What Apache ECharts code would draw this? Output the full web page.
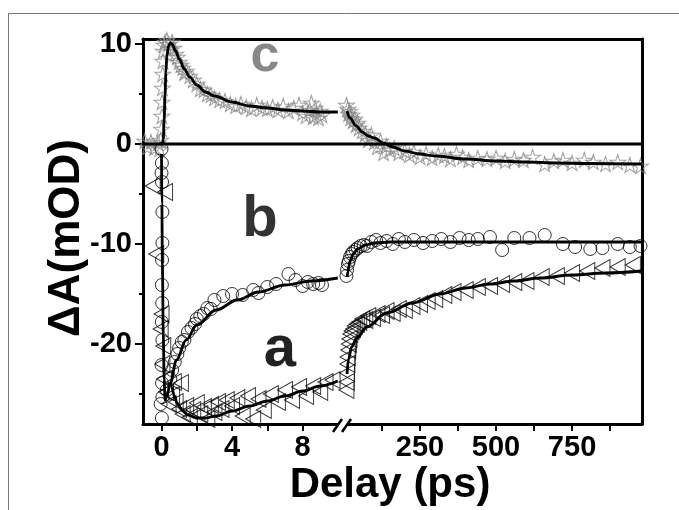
<!DOCTYPE html>
<html>
<head>
<meta charset="utf-8">
<script src="https://cdn.jsdelivr.net/npm/echarts@6/dist/echarts.min.js"></script>
<style>
  html, body { margin: 0; padding: 0; background: #fff; }
  #chart { width: 679px; height: 510px; }
</style>
</head>
<body>
<div id="chart"></div>
<script>
// ---- data: [delay (ps), dA (mOD)] ----
// short delays (left panel, -1..10 ps)
const cStarsShort = [[-0.95,0.3],[-0.8,-0.3],[-0.6,0.2],[-0.4,-0.4],[-0.2,0.1],[-0.1,-0.5],[-0.05,0.4],[0,1.5],[0.02,2.8],[0.03,4.2],[0.05,5.6],[0.07,7.0],[0.08,8.3],[0.1,9.3],[0.15,9.9],[0.2,10.2],[0.3,10.4],[0.4,10.0],[0.5,9.5],[0.6,10.2],[0.7,9.6],[0.8,9.0],[0.9,8.7],[1.0,8.2],[1.1,7.9],[1.2,7.6],[1.3,7.1],[1.4,7.3],[1.6,6.8],[1.8,6.4],[2.0,6.0],[2.2,5.5],[2.4,5.4],[2.6,5.0],[2.8,4.9],[3.0,4.6],[3.3,4.4],[3.6,4.3],[3.9,4.0],[4.2,3.8],[4.5,4.0],[4.8,3.7],[5.1,3.5],[5.4,3.9],[5.7,3.6],[6.0,3.5],[6.3,3.7],[6.6,3.4],[6.9,3.8],[7.2,3.3],[7.5,3.6],[7.8,3.9],[8.0,3.1],[8.2,2.8],[8.4,3.4],[8.5,4.1],[8.6,2.7],[8.7,3.6],[8.8,3.0],[8.9,2.6],[9.0,3.3],[9.1,2.9]];
const cFitShort = [[-1.05,0],[0.05,0],[0.1,0.5],[0.15,2.5],[0.2,5],[0.25,7.2],[0.3,8.8],[0.4,9.8],[0.5,10.1],[0.6,10.0],[0.8,9.3],[1.0,8.5],[1.3,7.5],[1.6,6.7],[2.0,5.9],[2.5,5.2],[3.0,4.8],[4.0,4.2],[5.0,3.8],[6.0,3.6],[7.0,3.4],[8.0,3.3],[9.0,3.2],[10.0,3.2]];
const bCirclesShort = [[0,-0.5],[0.02,-1.9],[0,-2.9],[0.03,-3.8],[0.05,-6.8],[0.05,-9.9],[0.03,-11.6],[0.02,-14.1],[0.04,-15.9],[0.02,-17.8],[0.05,-19.6],[0,-22.1],[0.03,-23.9],[0.05,-25.3],[-0.05,-26],[0.02,-27.4],[0.3,-24.6],[0.5,-23.5],[0.6,-22.6],[0.75,-21.8],[0.9,-21.0],[1.0,-20.4],[1.15,-19.8],[1.3,-19.6],[1.5,-18.8],[1.7,-18.4],[1.9,-18.0],[2.0,-17.5],[2.2,-17.2],[2.4,-17.0],[2.6,-16.4],[2.8,-16.5],[3.0,-15.6],[3.5,-15.2],[4.0,-15.0],[4.6,-15.1],[5.2,-14.6],[5.5,-14.9],[6.0,-14.3],[6.5,-14.0],[7.2,-13.0],[7.6,-13.6],[8.0,-14.2],[8.3,-13.8],[8.6,-14.0],[8.9,-13.9],[9.1,-14.1]];
const bFitShort = [[0,-1],[0.02,-6],[0.05,-12],[0.1,-19],[0.15,-23.5],[0.2,-25.6],[0.3,-25.2],[0.5,-23.9],[0.85,-21.6],[1.4,-19.6],[2.0,-18.1],[3.1,-16.6],[4.3,-15.6],[5.5,-14.8],[7,-14.1],[8.5,-13.7],[10,-13.4]];
const aTrianglesShort = [[-0.5,-4.2],[0.2,-4.8],[-0.3,-11.0],[0,-17.0],[-0.05,-18.5],[0.1,-20.2],[0.05,-22.0],[0.15,-23.5],[0.25,-24.8],[0.4,-26.0],[0.6,-25.1],[0.7,-23.8],[0.8,-25.8],[1.0,-26.5],[1.1,-23.9],[1.2,-27.0],[1.4,-26.2],[1.6,-27.3],[1.8,-26.6],[2.0,-25.9],[2.2,-27.0],[2.4,-26.3],[2.6,-27.5],[2.8,-26.1],[3.0,-26.8],[3.2,-25.8],[3.4,-26.5],[3.7,-25.6],[4.0,-26.2],[4.3,-25.4],[4.6,-27.2],[4.9,-25.2],[5.2,-27.5],[5.5,-25.5],[5.8,-26.6],[6.2,-25.0],[6.6,-25.8],[7.0,-24.6],[7.4,-25.6],[7.8,-24.3],[8.2,-25.2],[8.6,-24.2],[9.0,-24.8],[9.3,-23.8],[9.7,-23.6]];
const aFitShort = [[0.6,-24.3],[0.75,-25.3],[0.9,-26.0],[1.2,-26.7],[1.5,-27.1],[2.0,-27.4],[2.5,-27.4],[3.1,-27.2],[4.0,-26.7],[5.0,-26.2],[6.0,-25.7],[7.0,-25.2],[8.0,-24.7],[9.0,-24.2],[10.0,-23.7]];

// long delays (right panel, 0..980 ps)
const cStarsLong = [[8,3.9],[12,3.5],[15,3.0],[18,3.3],[22,2.6],[25,2.9],[30,2.3],[35,2.5],[40,1.9],[45,2.1],[50,1.6],[60,1.3],[70,1.0],[80,0.4],[90,0.9],[100,0.2],[110,-0.3],[120,0.3],[130,-0.9],[140,-0.2],[150,-0.6],[165,-0.4],[180,-0.9],[200,-0.7],[215,-1.1],[230,-0.8],[250,-1.3],[270,-1.0],[290,-1.4],[310,-1.1],[330,-1.2],[350,-1.5],[370,-1.0],[390,-1.3],[410,-1.6],[440,-1.4],[470,-1.5],[500,-1.4],[530,-1.7],[560,-1.5],[590,-1.6],[620,-1.3],[660,-2.0],[690,-1.7],[720,-1.6],[750,-1.9],[790,-1.6],[820,-1.8],[860,-2.0],[900,-1.8],[940,-2.1],[975,-2.2]];
const cFitLong = [[10,3.3],[20,2.6],[40,1.8],[60,1.2],[80,0.8],[100,0.6],[130,0.1],[160,-0.3],[200,-0.7],[250,-1.0],[300,-1.2],[400,-1.5],[500,-1.7],[600,-1.8],[700,-1.9],[800,-1.95],[980,-2.0]];
const bCirclesLong = [[8,-13.2],[10,-12.6],[13,-12.0],[16,-11.7],[20,-11.3],[25,-11.0],[30,-10.8],[38,-10.6],[45,-10.4],[55,-10.2],[65,-10.1],[75,-10.2],[90,-9.8],[105,-9.6],[120,-9.9],[140,-9.7],[160,-10.0],[180,-9.5],[200,-9.8],[230,-9.6],[260,-9.9],[290,-9.7],[320,-9.5],[350,-9.8],[380,-9.4],[410,-9.6],[440,-9.5],[480,-9.3],[520,-10.6],[560,-9.4],[610,-9.4],[660,-9.1],[720,-10.0],[760,-10.3],[810,-10.5],[850,-10.4],[900,-10.0],[940,-10.3],[975,-10.2]];
const bFitLong = [[10,-13.3],[13,-12.8],[16,-12.2],[20,-11.7],[30,-11.0],[45,-10.5],[70,-10.1],[100,-9.9],[150,-9.8],[980,-9.8]];
const aTrianglesLong = [[8,-24.6],[9,-23.8],[10,-22.9],[11,-22.0],[12,-21.3],[14,-20.6],[16,-20.0],[18,-19.5],[21,-19.0],[25,-18.7],[30,-18.5],[35,-18.2],[42,-18.0],[50,-17.8],[60,-17.5],[70,-17.6],[80,-17.2],[95,-17.4],[110,-17.0],[125,-17.1],[140,-16.7],[160,-16.9],[180,-16.5],[200,-16.6],[225,-16.2],[250,-16.0],[275,-15.7],[300,-15.5],[330,-15.1],[360,-14.8],[400,-14.6],[440,-14.3],[480,-14.2],[520,-14.0],[560,-13.8],[600,-13.7],[650,-13.3],[700,-13.2],[750,-12.9],[800,-12.7],[850,-12.4],[900,-12.3],[950,-12.1]];
const aFitLong = [[10,-23.0],[15,-21.5],[25,-20.3],[42,-19.4],[75,-18.3],[140,-16.9],[225,-15.9],[316,-15.0],[400,-14.4],[480,-14.0],[560,-13.7],[645,-13.4],[750,-13.1],[860,-12.9],[980,-12.7]];

const zeroShort = [[0,0],[10.35,0]];
const zeroLong = [[0,0],[980,0]];

// ticks
const yMajor = [-20, -10, 0, 10];
const yMinor = [-25, -15, -5, 5];
const xShortTicks = [0, 2, 4, 6, 8];
const xShortLabels = [0, 4, 8];
const xLongTicks = [125, 250, 375, 500, 625, 750, 875];
const xLongLabels = [250, 500, 750];

const FONT = '"Liberation Sans", Arial, Helvetica, sans-serif';
const STAR = 'path://M50,0 L61,35 L98,35 L68,57 L79,91 L50,70 L21,91 L32,57 L2,35 L39,35 Z';

const chart = echarts.init(document.getElementById('chart'), null, { renderer: 'canvas' });

const lineAxis = { show: true, onZero: false, lineStyle: { color: '#000', width: 3 } };
const tickLabel = { fontFamily: FONT, fontWeight: 'bold', fontSize: 29, color: '#000' };

function xAxisBottom(grid, min, max, ticks, labels) {
  return {
    type: 'value', gridIndex: grid, position: 'bottom', min, max,
    axisLine: lineAxis,
    axisTick: { show: true, inside: false, length: 7, customValues: ticks, lineStyle: { width: 2, color: '#000' } },
    axisLabel: Object.assign({ customValues: labels, margin: 9 }, tickLabel),
    splitLine: { show: false }
  };
}
function xAxisTop(grid, min, max) {
  return {
    type: 'value', gridIndex: grid, position: 'top', min, max,
    axisLine: lineAxis, axisTick: { show: false }, axisLabel: { show: false }, splitLine: { show: false }
  };
}

function scatter(name, x, y, data, symbol, size, color, rotate) {
  return {
    name, type: 'scatter', xAxisIndex: x, yAxisIndex: y, data,
    symbol, symbolSize: size, symbolRotate: rotate || 0, z: 2,
    itemStyle: { color: 'rgba(0,0,0,0)', borderColor: color, borderWidth: 1 },
    emphasis: { disabled: true }
  };
}
function fit(name, x, y, data) {
  return {
    name, type: 'line', xAxisIndex: x, yAxisIndex: y, data,
    showSymbol: false, smooth: 0.35, smoothMonotone: 'x', z: 5,
    lineStyle: { color: '#000', width: 2.8 }
  };
}

const option = {
  animation: false,
  backgroundColor: '#fff',
  grid: [
    { left: 143, top: 39, width: 201, height: 385 },
    { left: 344, top: 39, width: 298, height: 385 }
  ],
  xAxis: [
    xAxisBottom(0, -1.05, 10.35, xShortTicks, xShortLabels),
    xAxisTop(0, -1.05, 10.35),
    xAxisBottom(1, 0, 980, xLongTicks, xLongLabels),
    xAxisTop(1, 0, 980)
  ],
  yAxis: [
    {
      type: 'value', gridIndex: 0, position: 'left', min: -28, max: 10.5,
      axisLine: lineAxis,
      axisTick: { show: true, length: 8, customValues: yMajor, lineStyle: { width: 2, color: '#000' } },
      axisLabel: Object.assign({ customValues: yMajor, margin: 11 }, tickLabel),
      splitLine: { show: false }
    },
    {
      type: 'value', gridIndex: 0, position: 'left', min: -28, max: 10.5,
      axisLine: { show: false, onZero: false },
      axisTick: { show: true, length: 4, customValues: yMinor, lineStyle: { width: 2, color: '#000' } },
      axisLabel: { show: false }, splitLine: { show: false }
    },
    {
      type: 'value', gridIndex: 1, position: 'right', min: -28, max: 10.5,
      axisLine: lineAxis, axisTick: { show: false }, axisLabel: { show: false }, splitLine: { show: false }
    }
  ],
  series: [
    fit('zero short', 0, 0, zeroShort),
    fit('zero long', 2, 2, zeroLong),
    scatter('c', 0, 0, cStarsShort, STAR, [16, 15], '#8a8a8a'),
    scatter('c', 2, 2, cStarsLong, STAR, [16, 15], '#8a8a8a'),
    scatter('b', 0, 0, bCirclesShort, 'circle', 13, '#000'),
    scatter('b', 2, 2, bCirclesLong, 'circle', 13, '#000'),
    scatter('a', 0, 0, aTrianglesShort, 'triangle', [17, 15], '#000', 90),
    scatter('a', 2, 2, aTrianglesLong, 'triangle', [17, 15], '#000', 90),
    fit('c fit', 0, 0, cFitShort),
    fit('c fit', 2, 2, cFitLong),
    fit('b fit', 0, 0, bFitShort),
    fit('b fit', 2, 2, bFitLong),
    fit('a fit', 0, 0, aFitShort),
    fit('a fit', 2, 2, aFitLong)
  ],
  graphic: [
    { type: 'rect', shape: { x: 8.5, y: 13.5, width: 700, height: 600 }, style: { fill: 'none', stroke: '#777', lineWidth: 1 }, z: 0, silent: true },
    // axis break on the delay axis
    { type: 'rect', shape: { x: 338, y: 419, width: 10, height: 10 }, style: { fill: '#fff' }, z: 100 },
    { type: 'line', shape: { x1: 333, y1: 432, x2: 342, y2: 419 }, style: { stroke: '#000', lineWidth: 2.5 }, z: 101 },
    { type: 'line', shape: { x1: 342, y1: 432, x2: 351, y2: 419 }, style: { stroke: '#000', lineWidth: 2.5 }, z: 101 },
    // curve letters
    { type: 'text', x: 265, y: 57, z: 50, style: { text: 'c', font: 'bold 52px ' + FONT, fill: '#888', align: 'center', verticalAlign: 'middle' } },
    { type: 'text', x: 260, y: 220, z: 50, style: { text: 'b', font: 'bold 58px ' + FONT, fill: '#333', align: 'center', verticalAlign: 'middle' } },
    { type: 'text', x: 280, y: 350, z: 50, style: { text: 'a', font: 'bold 58px ' + FONT, fill: '#222', align: 'center', verticalAlign: 'middle' } },
    // axis titles
    { type: 'text', x: 390, y: 485, z: 50, style: { text: 'Delay (ps)', font: 'bold 42px ' + FONT, fill: '#000', align: 'center', verticalAlign: 'middle' } },
    { type: 'text', x: 67, y: 238, rotation: Math.PI / 2, z: 50, style: { text: 'ΔA(mOD)', font: 'bold 44px ' + FONT, fill: '#000', align: 'center', verticalAlign: 'middle' } }
  ]
};

chart.setOption(option);
</script>
</body>
</html>
